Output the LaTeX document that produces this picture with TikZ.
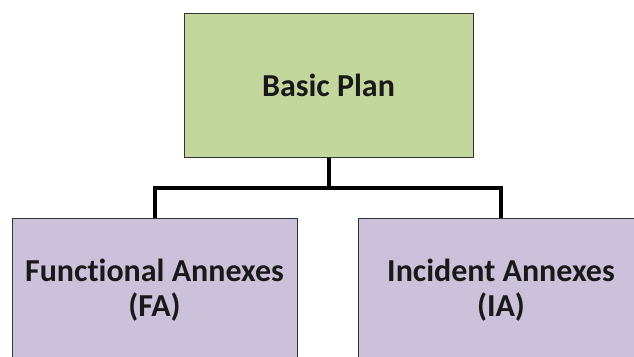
\documentclass[tikz,border=0pt]{standalone}
\usepackage{fontspec}
\setmainfont{Carlito}[Ligatures=NoCommon]
\usepackage{tikz}
\usetikzlibrary{positioning,calc}
\definecolor{plangreen}{HTML}{C3D69B}
\definecolor{annexlilac}{HTML}{CCC1DA}

\begin{document}
\begin{tikzpicture}[x=1pt,y=1pt,
   box/.style={draw=black!80,line width=1pt,align=center,inner sep=0pt,
     font=\fontsize{32}{35}\selectfont\bfseries,text=black!90},
   link/.style={line width=4pt,black}]
   \useasboundingbox (0,0) rectangle (634,-356);
   \node[box,fill=plangreen,minimum width=289,minimum height=144] (plan) at (328.5,-85) {Basic Plan};
   \node[box,fill=annexlilac,minimum width=285,minimum height=144] (fa) at (154.5,-290) {Functional Annexes\\(FA)};
   \node[box,fill=annexlilac,minimum width=286,minimum height=144] (ia) at (501,-290) {Incident Annexes\\(IA)};
   \coordinate (split) at (328.5,-188);
   \draw[link] (plan) -- (split); %plan to split
   \draw[link] (split) -| (fa.north); %split to FA
   \draw[link] (split) -| (ia.north); %split to IA
\end{tikzpicture}
\end{document}
